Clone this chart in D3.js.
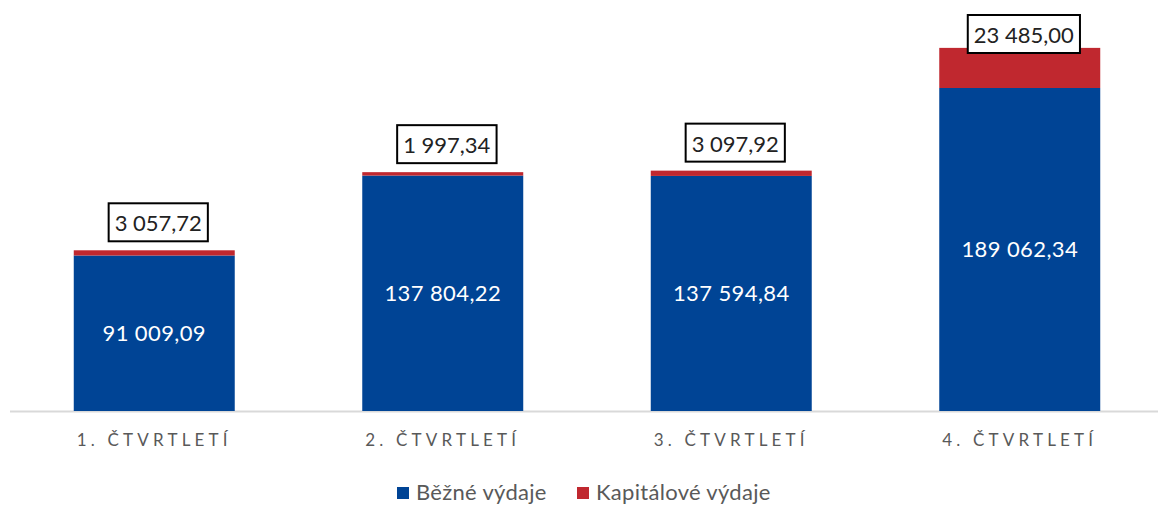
<!DOCTYPE html>
<html>
<head>
<meta charset="utf-8">
<script src="https://cdn.jsdelivr.net/npm/d3@7"></script>
<style>
  body { margin: 0; background: #fff; }
  text { font-family: Lato, "Open Sans", sans-serif; }
</style>
</head>
<body>
<div class="chart"></div>
<script>
var quarters = ["1. ČTVRTLETÍ", "2. ČTVRTLETÍ", "3. ČTVRTLETÍ", "4. ČTVRTLETÍ"];
var bezne = [91009.09, 137804.22, 137594.84, 189062.34];
var kapitalove = [3057.72, 1997.34, 3097.92, 23485.00];
var seriesNames = ["Běžné výdaje", "Kapitálové výdaje"];
var colors = ["#004495", "#C0282F"];

var svgW = 1158, svgH = 506;
var baseY = 411;

var fmt = function(v) {
    var s = v.toFixed(2).split(".");
    return s[0].replace(/\B(?=(\d{3})+(?!\d))/g, "\u00a0") + "," + s[1];
};

var svg = d3.select(".chart").append("svg")
    .attr("width", svgW)
    .attr("height", svgH);

var xS = d3.scaleBand().domain(quarters).range([10, 1164]).paddingInner(0.442).paddingOuter(0.221);
var yS = d3.scaleLinear().domain([0, 189062.34]).range([baseY, 88]);

var data = quarters.map(function(q, i) {
    return { q: q, b: bezne[i], k: kapitalove[i] };
});

// baseline
svg.append("line")
    .attr("x1", 10).attr("x2", svgW)
    .attr("y1", baseY + 0.5).attr("y2", baseY + 0.5)
    .attr("stroke", "#d9d9d9").attr("stroke-width", 2);

var g = svg.selectAll(".bar").data(data).enter().append("g").attr("class", "bar");

g.append("rect")
    .attr("x", function(d) { return xS(d.q); })
    .attr("width", xS.bandwidth())
    .attr("y", function(d) { return yS(d.b); })
    .attr("height", function(d) { return baseY - yS(d.b); })
    .attr("fill", colors[0]);

g.append("rect")
    .attr("x", function(d) { return xS(d.q); })
    .attr("width", xS.bandwidth())
    .attr("y", function(d) { return yS(d.b + d.k); })
    .attr("height", function(d) { return yS(d.b) - yS(d.b + d.k); })
    .attr("fill", colors[1]);

g.append("text")
    .attr("x", function(d) { return xS(d.q) + xS.bandwidth() / 2; })
    .attr("y", function(d) { return (yS(d.b) + baseY) / 2; })
    .attr("dy", "0.35em")
    .attr("text-anchor", "middle")
    .attr("fill", "#fff")
    .style("font-size", "22px")
    .style("letter-spacing", "0.4px")
    .text(function(d) { return fmt(d.b); });

// boxed labels for capital
g.each(function(d) {
    var cx = xS(d.q) + xS.bandwidth() / 2 + 4;
    var boxBottom = Math.max(yS(d.b + d.k) - 9, 53);
    var grp = d3.select(this);
    var t = grp.append("text")
        .attr("x", cx)
        .attr("y", boxBottom - 10)
        .attr("text-anchor", "middle")
        .attr("fill", "#222")
        .style("font-size", "22px")
        .text(fmt(d.k));
    var bb = t.node().getBBox();
    grp.insert("rect", "text:last-child")
        .attr("x", bb.x - 6).attr("y", boxBottom - 38)
        .attr("width", bb.width + 12).attr("height", 38)
        .attr("fill", "#fff")
        .attr("stroke", "#000").attr("stroke-width", 2);
});

// category labels
svg.selectAll(".cat").data(quarters).enter().append("text")
    .attr("class", "cat")
    .attr("x", function(d) { return xS(d) + xS.bandwidth() / 2; })
    .attr("y", 446)
    .attr("text-anchor", "middle")
    .attr("fill", "#595959")
    .style("font-size", "17px")
    .style("letter-spacing", "4.2px")
    .text(function(d) { return d; });

// legend
var leg = svg.append("g").attr("transform", "translate(397,500)");
var lx = [0, 180];
seriesNames.forEach(function(n, i) {
    leg.append("rect")
        .attr("x", lx[i]).attr("y", -13)
        .attr("width", 12).attr("height", 12)
        .attr("fill", colors[i]);
    leg.append("text")
        .attr("x", lx[i] + 19).attr("y", 0)
        .attr("fill", "#595959")
        .style("font-size", "22px")
        .style("letter-spacing", "0.3px")
        .text(n);
});
</script>
</body>
</html>
